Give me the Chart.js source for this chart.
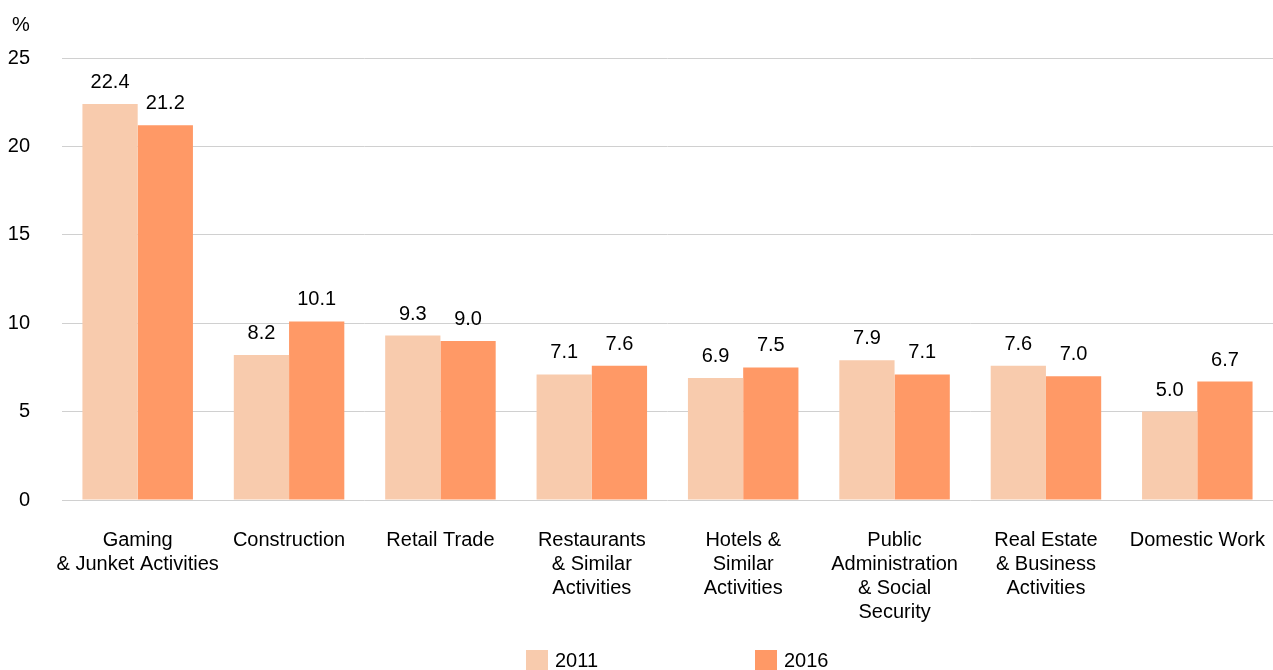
<!DOCTYPE html>
<html>
<head>
<meta charset="utf-8">
<script src="https://cdn.jsdelivr.net/npm/chart.js@4.4.1/dist/chart.umd.min.js"></script>
<style>
  html, body { margin: 0; padding: 0; background: #fff; }
  #wrap { width: 1273px; height: 670px; position: relative; }
</style>
</head>
<body>
<div id="wrap"><canvas id="c" width="1273" height="670"></canvas></div>
<script>
const categories = [
  ['Gaming', '& Junket Activities'],
  ['Construction'],
  ['Retail Trade'],
  ['Restaurants', '& Similar', 'Activities'],
  ['Hotels &', 'Similar', 'Activities'],
  ['Public', 'Administration', '& Social', 'Security'],
  ['Real Estate', '& Business', 'Activities'],
  ['Domestic Work'],
];
const values2011 = [22.4, 8.2, 9.3, 7.1, 6.9, 7.9, 7.6, 5.0];
const values2016 = [21.2, 10.1, 9.0, 7.6, 7.5, 7.1, 7.0, 6.7];
const seriesNames = ['2011', '2016'];
const yTicks = [0, 5, 10, 15, 20, 25];

const FONT = '"Liberation Sans", Arial, sans-serif';
const fontSize = 20;

// value labels above each bar + "%" unit + legend at bottom
const extras = {
  id: 'extras',
  afterDatasetsDraw(chart) {
    const ctx = chart.ctx;
    ctx.save();
    ctx.fillStyle = '#000';
    ctx.font = `${fontSize}px ${FONT}`;
    ctx.textAlign = 'center';
    ctx.textBaseline = 'alphabetic';
    chart.data.datasets.forEach((ds, i) => {
      chart.getDatasetMeta(i).data.forEach((bar, j) => {
        ctx.fillText(ds.data[j].toFixed(1), bar.x, bar.y - 16);
      });
    });
    ctx.textAlign = 'left';
    ctx.fillText('%', 12, 31);

    // legend
    const lx = [526, 755];
    chart.data.datasets.forEach((ds, i) => {
      ctx.fillStyle = ds.backgroundColor;
      ctx.fillRect(lx[i], 650, 22, 20);
      ctx.fillStyle = '#000';
      ctx.textBaseline = 'middle';
      ctx.fillText(ds.label, lx[i] + 29, 661);
    });
    ctx.restore();
  }
};

new Chart(document.getElementById('c'), {
  type: 'bar',
  data: {
    labels: categories,
    datasets: [
      { label: seriesNames[0], data: values2011, backgroundColor: '#F8CBAD' },
      { label: seriesNames[1], data: values2016, backgroundColor: '#FF9966' },
    ],
  },
  options: {
    responsive: false,
    animation: false,
    layout: { padding: { top: 58, right: 0, left: 0, bottom: 0 } },
    datasets: { bar: { categoryPercentage: 0.73, barPercentage: 1.0 } },
    plugins: { legend: { display: false }, tooltip: { enabled: false } },
    scales: {
      x: {
        grid: { display: false, drawTicks: false },
        border: { display: false },
        ticks: { color: '#000', font: { family: FONT, size: fontSize, lineHeight: 1.2 }, padding: 28, maxRotation: 0, autoSkip: false },
        afterFit(s) { s.height = 170; s.paddingLeft = 0; s.paddingRight = 0; },
      },
      y: {
        min: 0, max: 25,
        afterBuildTicks(s) { s.ticks = yTicks.map(v => ({ value: v })); },
        grid: { color: '#d0d0d0', lineWidth: 1, drawTicks: false },
        border: { display: false },
        ticks: { color: '#000', font: { family: FONT, size: fontSize }, padding: 32 },
        afterFit(s) { s.width = 62; },
      },
    },
  },
  plugins: [extras],
});
</script>
</body>
</html>
